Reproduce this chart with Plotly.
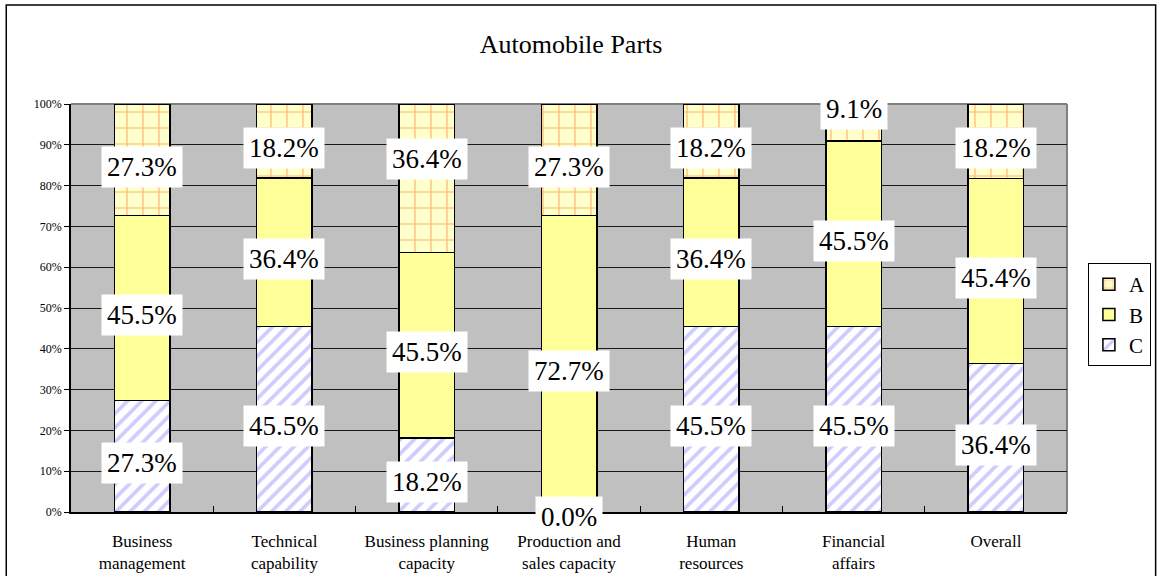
import plotly.graph_objects as go

# Survey shares per capability area (percent of respondents)
categories = [
    "Business<br>management",
    "Technical<br>capability",
    "Business planning<br>capacity",
    "Production and<br>sales capacity",
    "Human<br>resources",
    "Financial<br>affairs",
    "Overall",
]
series_names = ["A", "B", "C"]
values_a = [27.3, 18.2, 36.4, 27.3, 18.2, 9.1, 18.2]
values_b = [45.5, 36.4, 45.5, 72.7, 36.4, 45.5, 45.4]
values_c = [27.3, 45.5, 18.2, 0.0, 45.5, 45.5, 36.4]

SERIF = "Liberation Serif, Times New Roman, serif"
x_pos = list(range(len(categories)))

styles = {
    "C": dict(color="white", pattern=dict(shape="/", fgcolor="#9999FF", bgcolor="white",
                                           size=10, solidity=0.38)),
    "B": dict(color="#FFFF99"),
    "A": dict(color="#FFFFCC", pattern=dict(shape="+", fgcolor="#FF6600", bgcolor="#FFFFCC",
                                             size=16, solidity=0.14)),
}
data = {"A": values_a, "B": values_b, "C": values_c}

# manual label nudges (pixels) where a label was moved off its segment centre
label_nudge = {(2, "A"): 26}

fig = go.Figure()
# stack from bottom (C) to top (A)
for name in ["C", "B", "A"]:
    fig.add_trace(go.Bar(
        x=x_pos, y=data[name], name=name,
        marker=dict(line=dict(color="black", width=1.5), **styles[name]),
        hoverinfo="skip",
    ))

# data labels in white boxes, centred on each normalised segment
annotations = []
for i in x_pos:
    total = values_a[i] + values_b[i] + values_c[i]
    base = 0.0
    for name in ["C", "B", "A"]:
        v = data[name][i]
        h = v / total * 100.0
        mid = base + h / 2.0
        shift = -7
        if h < 10 and v > 0:
            shift = 14
        elif v == 0:
            shift = -5
        shift += label_nudge.get((i, name), 0)
        annotations.append(dict(
            x=i, y=mid, xref="x", yref="y", text=f"{v:.1f}%", showarrow=False,
            yshift=shift, bgcolor="white", borderpad=5,
            font=dict(family=SERIF, size=27, color="black"),
        ))
        base += h

fig.update_layout(
    width=1163, height=576,
    margin=dict(l=71, r=92, t=104, b=64),
    paper_bgcolor="white", plot_bgcolor="#C0C0C0",
    barmode="stack", barnorm="percent", bargap=0.61,
    title=dict(text="Automobile Parts", x=0.491, xanchor="center", y=1 - 44 / 576,
               yanchor="middle", yref="container",
               font=dict(family=SERIF, size=26, color="black")),
    showlegend=True,
    legend=dict(x=1.021, y=0.61, xanchor="left", yanchor="top", traceorder="reversed",
                bgcolor="white", bordercolor="black", borderwidth=1,
                font=dict(family=SERIF, size=21, color="black"), itemwidth=30),
    xaxis=dict(range=[-0.5, 6.5], tickvals=x_pos, ticktext=categories, ticks="",
               showgrid=False, zeroline=False, showline=True, linecolor="black", linewidth=1.5,
               tickfont=dict(family=SERIF, size=17, color="black"), ticklabelstandoff=13,
               automargin=False),
    xaxis2=dict(range=[-0.5, 6.5], overlaying="x", side="bottom", tickvals=[i + 0.5 for i in x_pos[:-1]],
                ticks="inside", ticklen=6, tickcolor="black", showticklabels=False,
                showgrid=False, zeroline=False, automargin=False),
    yaxis=dict(range=[0, 100], dtick=10, ticksuffix="%", ticks="outside", ticklen=5,
               tickcolor="black", showline=True, linecolor="black", linewidth=1.5,
               showgrid=True, gridcolor="#1A1A1A", gridwidth=1, zeroline=False,
               tickfont=dict(family=SERIF, size=12, color="black"), automargin=False),
    annotations=annotations,
    shapes=[
        # plot-area frame on top and right
        dict(type="line", xref="paper", yref="paper", x0=0, x1=1, y0=1, y1=1,
             line=dict(color="#808080", width=2), layer="below"),
        dict(type="line", xref="paper", yref="paper", x0=1, x1=1, y0=0, y1=1,
             line=dict(color="#808080", width=2), layer="below"),
        # chart border
        dict(type="rect", xref="paper", yref="paper", x0=-0.065, x1=1.089, y0=-0.5, y1=1.2426,
             line=dict(color="black", width=1.5), fillcolor="rgba(0,0,0,0)"),
    ],
)
# invisible trace so the boundary tick axis is rendered
fig.add_trace(go.Scatter(x=[-0.5], y=[0], xaxis="x2", mode="markers", marker=dict(opacity=0),
                         showlegend=False, hoverinfo="skip"))

fig.write_html("out.html")
